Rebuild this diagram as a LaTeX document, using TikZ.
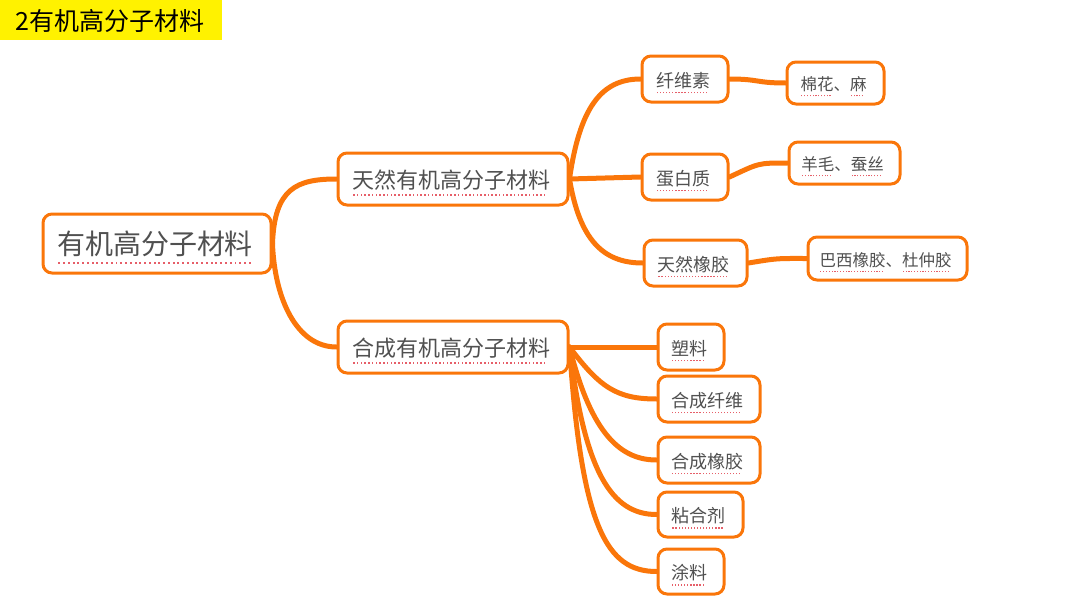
\documentclass[tikz,border=0pt]{standalone}
\usepackage{fontspec}
\setmainfont{Noto Sans CJK SC}
\usetikzlibrary{calc,backgrounds}
\definecolor{org}{RGB}{250,118,10}
\definecolor{txt}{RGB}{80,80,80}
\definecolor{ulc}{RGB}{230,95,105}
\newcommand\dotul[1]{\setbox0\hbox{#1}\rlap{\raisebox{-0.34em}{\hbox to \wd0{\color{ulc}\leaders\hbox to 0.17em{\hss\rule{0.07em}{0.07em}\hss}\hfill}}}\box0}
\newcommand\mmnode[7]{%
  \node[box,minimum width=#3,minimum height=#4] (#1) at (#5,#6) {};
  \node[#2] (#1-text) at ($(#1)+(-2,3.5)$) {#7};}
\begin{document}
\begin{tikzpicture}[x=1pt,y=-1pt,
  box/.style={draw=org,line width=3pt,rounded corners=9pt,fill=white,inner sep=0pt},
  tx/.style={text=txt,inner sep=0pt},
  lvl0/.style={tx,font=\fontsize{28}{32}\selectfont},
  lvl1/.style={tx,font=\fontsize{22}{26}\selectfont},
  lvl2/.style={tx,font=\fontsize{18}{21}\selectfont},
  lvl3/.style={tx,font=\fontsize{16.5}{19}\selectfont},
  con/.style={draw=org,line width=5pt,line cap=round}]
\useasboundingbox (0,0) rectangle (1080,608);
\fill[yellow] (0,0) rectangle (222,40);
\node[font=\fontsize{25}{29}\selectfont,text=black,inner sep=0pt] (title) at (110,21) {2有机高分子材料};
\mmnode{root}{lvl0}{228}{59}{157}{243.5}{\dotul{有机高分子材料}}
\mmnode{nat}{lvl1}{230}{52}{453}{179}{\dotul{天然有机高分子材料}}
\mmnode{syn}{lvl1}{230}{52}{453}{347}{\dotul{合成有机高分子材料}}
\mmnode{xws}{lvl2}{86}{46}{685}{79}{\dotul{纤维素}}
\mmnode{mh}{lvl3}{97}{42}{835.5}{83}{\dotul{棉花}、\dotul{麻}}
\mmnode{dbz}{lvl2}{86}{46}{685}{177}{\dotul{蛋白质}}
\mmnode{ym}{lvl3}{111}{42}{844.5}{163}{\dotul{羊毛}、\dotul{蚕丝}}
\mmnode{trxj}{lvl2}{103}{46}{695.5}{263}{\dotul{天然橡胶}}
\mmnode{bx}{lvl3}{159}{43}{887.5}{258.5}{\dotul{巴西橡胶}、\dotul{杜仲胶}}
\mmnode{sl}{lvl2}{66}{46}{691}{347}{\dotul{塑料}}
\mmnode{hcxw}{lvl2}{102}{46}{709}{399}{\dotul{合成纤维}}
\mmnode{hcxj}{lvl2}{102}{46}{709}{460}{\dotul{合成橡胶}}
\mmnode{nhj}{lvl2}{85}{45}{700.5}{514.5}{\dotul{粘合剂}}
\mmnode{tl}{lvl2}{66}{45}{691}{571.5}{\dotul{涂料}}
\begin{scope}[on background layer]
\path[con] (root.east) .. controls +(2,-55) and +(-40,0) .. (nat.west);
\path[con] (root.east) .. controls +(2,55) and +(-40,0) .. (syn.west);
\path[con] (nat.east) .. controls +(10,-70) and +(-40,0) .. (xws.west);
\path[con] (nat.east) -- (dbz.west);
\path[con] (nat.east) .. controls +(10,60) and +(-40,0) .. (trxj.west);
\path[con] (xws.east) .. controls +(30,0) and +(-30,0) .. (mh.west);
\path[con] (dbz.east) .. controls +(30,-14) and +(-30,0) .. (ym.west);
\path[con] (trxj.east) .. controls +(30,-5) and +(-30,0) .. (bx.west);
\path[con] (syn.east) -- (sl.west);
\path[con] (syn.east) .. controls +(30,40) and +(-40,0) .. (hcxw.west);
\path[con] (syn.east) .. controls +(20,80) and +(-40,0) .. (hcxj.west);
\path[con] (syn.east) .. controls +(15,125) and +(-45,0) .. (nhj.west);
\path[con] (syn.east) .. controls +(12,180) and +(-50,0) .. (tl.west);
\end{scope}
\end{tikzpicture}
\end{document}
